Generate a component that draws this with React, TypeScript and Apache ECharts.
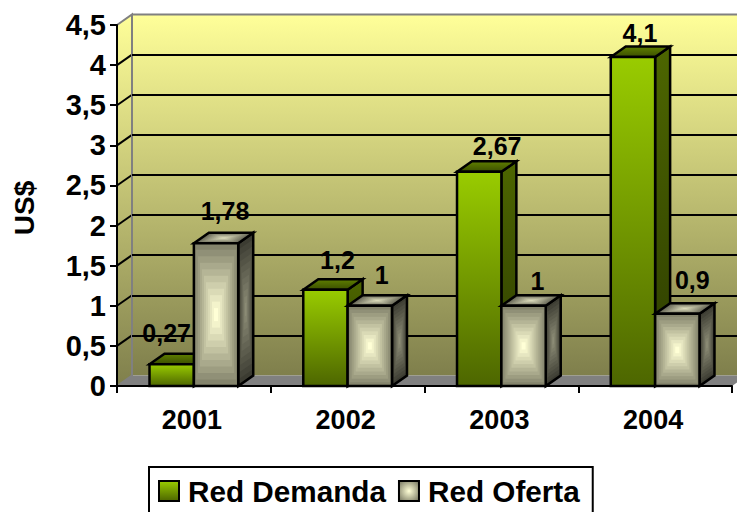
import React, { useEffect, useRef } from "react";
import * as echarts from "echarts";

const categories = ["2001", "2002", "2003", "2004"];
const redDemanda = [0.27, 1.2, 2.67, 4.1];
const redOferta = [1.78, 1, 1, 0.9];
const yTicks = [0, 0.5, 1, 1.5, 2, 2.5, 3, 3.5, 4, 4.5];
const demandaLabelNudge = [[-5, -31], [12, -30], [18, -26], [7, -24]];
const ofertaLabelNudge = [[9, -32], [12, -31], [14, -25], [15, -34]];

const DX = 15;
const DY = -10.5;
const BAR_FRACTION = 0.2885;
const FONT = '"Liberation Sans", Arial, sans-serif';
const STEPS = 11;

const hex = (c: number[]) =>
  "#" + c.map((v) => Math.round(v).toString(16).padStart(2, "0")).join("");
const mix = (a: number[], b: number[], t: number) => hex(a.map((v, i) => v + (b[i] - v) * t));
const vGrad = (a: string, b: string) =>
  new echarts.graphic.LinearGradient(0, 0, 0, 1, [
    { offset: 0, color: a },
    { offset: 1, color: b },
  ]);
const fmt = (v: number) => String(v).replace(".", ",");

function concentric(points: number[][], edge: number[], centre: number[]) {
  const cx = points.reduce((s, p) => s + p[0], 0) / points.length;
  const cy = points.reduce((s, p) => s + p[1], 0) / points.length;
  const out: any[] = [];
  for (let k = 0; k < STEPS; k++) {
    const t = k / STEPS;
    out.push({
      type: "polygon",
      shape: { points: points.map((p) => [cx + (p[0] - cx) * (1 - t), cy + (p[1] - cy) * (1 - t)]) },
      style: { fill: mix(edge, centre, t / (1 - 1 / STEPS)) },
    });
  }
  out.push({
    type: "polygon",
    shape: { points },
    style: { fill: "none", stroke: "#000", lineWidth: 2.5, lineJoin: "miter" },
  });
  return out;
}

function faces(x: number, y: number, w: number, bottom: number) {
  return {
    front: [[x, y], [x + w, y], [x + w, bottom], [x, bottom]],
    side: [[x + w, y], [x + w + DX, y + DY], [x + w + DX, bottom + DY], [x + w, bottom]],
    top: [[x, y], [x + DX, y + DY], [x + w + DX, y + DY], [x + w, y]],
  };
}

const stroke = { stroke: "#000", lineWidth: 2.5, lineJoin: "miter" };

function label(text: string, x: number, y: number) {
  return {
    type: "text",
    style: {
      text,
      x,
      y,
      align: "center",
      verticalAlign: "middle",
      font: `bold 25px ${FONT}`,
      fill: "#000",
    },
  };
}

const renderDemanda = (params: any, api: any) => {
  const i = params.dataIndex;
  const p = api.coord([api.value(0), api.value(1)]);
  const base = api.coord([api.value(0), 0]);
  const w = api.size([1, 0])[0] * BAR_FRACTION;
  const f = faces(p[0] - w, p[1], w, base[1]);
  const n = demandaLabelNudge[i];
  return {
    type: "group",
    children: [
      { type: "polygon", shape: { points: f.side }, style: { fill: vGrad("#4d6600", "#2d3c00"), ...stroke } },
      { type: "polygon", shape: { points: f.top }, style: { fill: vGrad("#5f7f00", "#3b4f00"), ...stroke } },
      { type: "polygon", shape: { points: f.front }, style: { fill: vGrad("#99cc00", "#4d6600"), ...stroke } },
      label(fmt(api.value(1)), p[0] - w / 2 + n[0], p[1] + n[1]),
    ],
  };
};

const renderOferta = (params: any, api: any) => {
  const i = params.dataIndex;
  const p = api.coord([api.value(0), api.value(1)]);
  const base = api.coord([api.value(0), 0]);
  const w = api.size([1, 0])[0] * BAR_FRACTION;
  const f = faces(p[0], p[1], w, base[1]);
  const n = ofertaLabelNudge[i];
  return {
    type: "group",
    children: [
      ...concentric(f.side, [0x3c, 0x3c, 0x32], [0x8c, 0x8c, 0x76]),
      ...concentric(f.top, [0x66, 0x66, 0x56], [0xd8, 0xd8, 0xb8]),
      ...concentric(f.front, [0x84, 0x84, 0x6c], [0xff, 0xff, 0xd6]),
      label(fmt(api.value(1)), p[0] + w / 2 + n[0], p[1] + n[1]),
    ],
  };
};

const renderWalls = (params: any, api: any) => {
  const c = params.coordSys;
  const left = c.x;
  const right = c.x + c.width;
  const top = c.y;
  const bottom = c.y + c.height;
  const wallFill = vGrad("#ffff99", "#7f7f4c");
  const ticks = yTicks.slice(1, -1).map((v) => {
    const q = api.coord([0, v]);
    return {
      type: "line",
      shape: { x1: left, y1: q[1], x2: left + DX, y2: q[1] + DY },
      style: { stroke: "#000", lineWidth: 2 },
    };
  });
  return {
    type: "group",
    children: [
      {
        type: "rect",
        shape: { x: left + DX, y: top + DY, width: c.width + 10, height: c.height },
        style: { fill: wallFill },
      },
      {
        type: "polygon",
        shape: { points: [[left, top], [left + DX, top + DY], [left + DX, bottom + DY], [left, bottom]] },
        style: { fill: wallFill },
      },
      {
        type: "polygon",
        shape: { points: [[left, bottom], [left + DX, bottom + DY], [right + DX, bottom + DY], [right, bottom]] },
        style: { fill: "#808080" },
      },
      ...ticks,
      {
        type: "polyline",
        shape: { points: [[left, top], [left + DX, top + DY], [left + DX, bottom + DY], [left, bottom]] },
        style: { fill: "none", stroke: "#808080", lineWidth: 2 },
      },
      {
        type: "line",
        shape: { x1: left + DX, y1: top + DY, x2: right + DX, y2: top + DY },
        style: { stroke: "#808080", lineWidth: 2 },
      },
    ],
  };
};

export default function App() {
  const ref = useRef<HTMLDivElement>(null);
  useEffect(() => {
    const chart = echarts.init(ref.current!, null, { renderer: "svg" });
    chart.setOption({
      animation: false,
      textStyle: { fontFamily: FONT },
      grid: [
        { left: 117, right: 5, top: 25, bottom: 126 },
        { left: 117 + DX, right: 5 - DX, top: 25 + DY, bottom: 126 - DY },
      ],
      xAxis: [
        {
          type: "category",
          data: categories,
          gridIndex: 0,
          z: 2,
          axisLine: { lineStyle: { color: "#000", width: 2 } },
          axisTick: { show: true, alignWithLabel: false, length: 7, lineStyle: { color: "#000", width: 2 } },
          axisLabel: {
            color: "#000",
            fontWeight: "bold",
            fontSize: 27,
            fontFamily: FONT,
            margin: 20,
            padding: [0, 4, 0, 0],
          },
        },
        { type: "category", data: categories, gridIndex: 1, show: false },
      ],
      yAxis: [
        {
          type: "value",
          gridIndex: 0,
          min: 0,
          max: 4.5,
          interval: 0.5,
          z: 2,
          name: "US$",
          nameLocation: "middle",
          nameRotate: 90,
          nameGap: 79,
          nameTextStyle: { color: "#000", fontWeight: "bold", fontSize: 28, fontFamily: FONT, padding: [0, 5, 0, 0] },
          splitLine: { show: false },
          axisLine: { show: true, lineStyle: { color: "#000", width: 2 } },
          axisTick: { show: true, length: 7, lineStyle: { color: "#000", width: 2 } },
          axisLabel: {
            color: "#000",
            fontWeight: "bold",
            fontSize: 29,
            fontFamily: FONT,
            margin: 11,
            formatter: (v: number) => fmt(v),
          },
        },
        {
          type: "value",
          gridIndex: 1,
          min: 0,
          max: 4.5,
          interval: 0.5,
          z: 1,
          axisLine: { show: false },
          axisTick: { show: false },
          axisLabel: { show: false },
          splitLine: {
            show: true,
            showMinLine: false,
            showMaxLine: false,
            lineStyle: { color: "#000", width: 2 },
          },
        },
      ],
      legend: {
        left: 149,
        top: 467,
        orient: "horizontal",
        borderColor: "#000",
        borderWidth: 2,
        padding: [9, 13, 23, 9],
        itemGap: 12,
        itemWidth: 20,
        itemHeight: 20,
        selectedMode: false,
        textStyle: { color: "#000", fontWeight: "bold", fontSize: 29.7, fontFamily: FONT, padding: [0, 0, 0, 4] },
        data: [
          {
            name: "Red Demanda",
            icon: "rect",
            itemStyle: { color: vGrad("#99cc00", "#4d6600"), borderColor: "#000", borderWidth: 2 },
          },
          {
            name: "Red Oferta",
            icon: "rect",
            itemStyle: {
              color: new echarts.graphic.RadialGradient(0.5, 0.5, 0.6, [
                { offset: 0, color: "#ffffd6" },
                { offset: 1, color: "#84846c" },
              ]),
              borderColor: "#000",
              borderWidth: 2,
            },
          },
        ],
      },
      series: [
        {
          type: "custom",
          name: "walls",
          z: 0,
          silent: true,
          xAxisIndex: 0,
          yAxisIndex: 0,
          data: [[0, 0]],
          renderItem: renderWalls,
        },
        {
          type: "custom",
          name: "Red Demanda",
          z: 3,
          xAxisIndex: 0,
          yAxisIndex: 0,
          data: redDemanda.map((v, i) => [i, v]),
          renderItem: renderDemanda,
        },
        {
          type: "custom",
          name: "Red Oferta",
          z: 4,
          xAxisIndex: 0,
          yAxisIndex: 0,
          data: redOferta.map((v, i) => [i, v]),
          renderItem: renderOferta,
        },
      ],
    });
    return () => chart.dispose();
  }, []);
  return (
    <div
      ref={ref}
      style={{ position: "absolute", left: 0, top: 0, width: 737, height: 512 }}
    />
  );
}
